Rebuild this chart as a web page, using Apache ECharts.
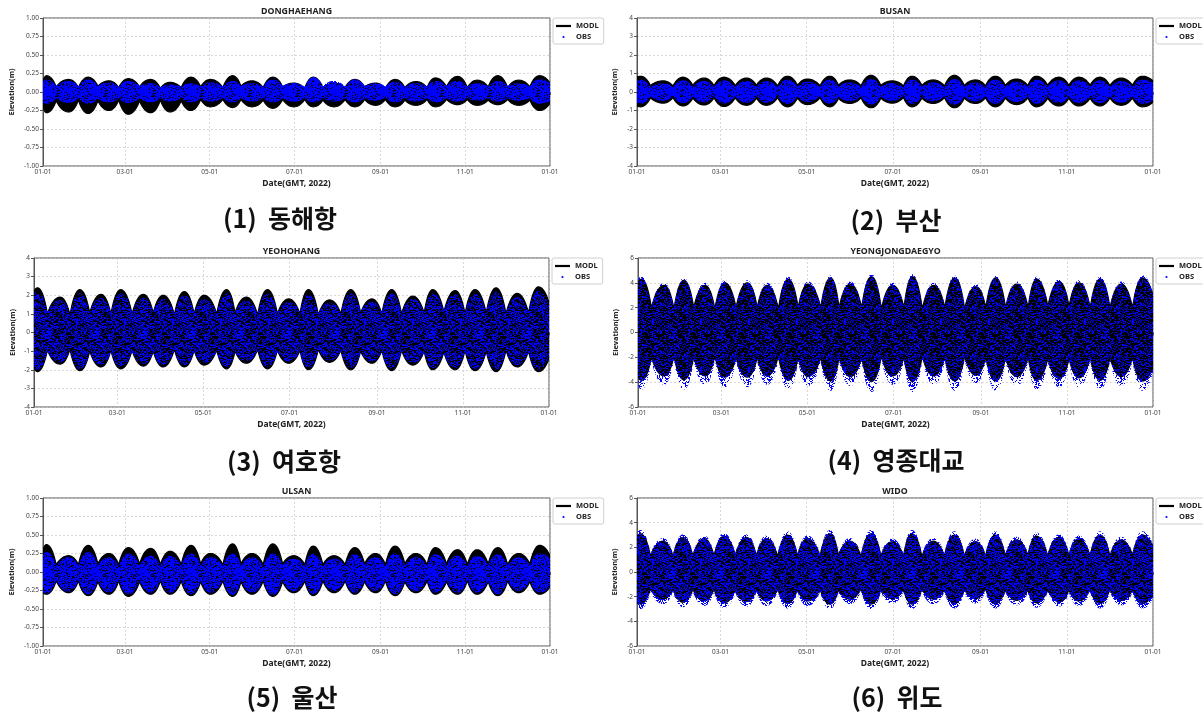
<!DOCTYPE html>
<html>
<head>
<meta charset="UTF-8">
<title>Elevation 2022</title>
<script src="https://cdn.jsdelivr.net/npm/echarts@6/dist/echarts.min.js"></script>
<style>
  html, body { margin: 0; padding: 0; background: #fff; }
  #main { width: 1203px; height: 714px; }
</style>
</head>
<body>
<div id="main"></div>
<script>
// sample days (day of 2022): edge, then spring / neap pairs, then edge
var days = [0, 2.5,9.5, 18.5,25.5, 32.5,39.5, 47.5,54.5, 61.5,69.5, 77.5,84.5, 91.5,99.5, 106.5,113.5, 120.5,129.5, 136.5,142.5, 150.5,158.5, 165.5,172.5, 180.5,188.5, 194.5,201.5, 209.5,217.5, 224.5,231.5, 239.5,246.5, 253.5,260.5, 268.5,276.5, 282.5,290.5, 298.5,305.5, 312.5,320.5, 327.5,334.5, 342.5,350.5, 357.5, 365];

var tickDays = [0, 59, 120, 181, 243, 304, 365];
var tickLabels = ['01-01', '03-01', '05-01', '07-01', '09-01', '11-01', '01-01'];

var stations = ['DONGHAEHANG', 'BUSAN', 'YEOHOHANG', 'YEONGJONGDAEGYO', 'ULSAN', 'WIDO'];
var captions = ['(1)  동해항', '(2)  부산', '(3)  여호항', '(4)  영종대교', '(5)  울산', '(6)  위도'];

// envelope of the tide band (m): upper / lower edge, model and observation
var donghaeModlHigh = [0.15, 0.22,0.07, 0.17,0.06, 0.2,0.08, 0.15,0.06, 0.18,0.07, 0.17,0.05, 0.13,0.06, 0.2,0.07, 0.17,0.06, 0.22,0.08, 0.15,0.06, 0.2,0.07, 0.12,0.05, 0.2,0.06, 0.12,0.06, 0.17,0.07, 0.12,0.05, 0.17,0.06, 0.14,0.06, 0.19,0.07, 0.21,0.06, 0.16,0.07, 0.22,0.06, 0.16,0.07, 0.22, 0.12];
var donghaeModlLow = [-0.2, -0.28,-0.12, -0.27,-0.11, -0.29,-0.12, -0.25,-0.11, -0.3,-0.12, -0.28,-0.11, -0.27,-0.12, -0.25,-0.1, -0.2,-0.1, -0.21,-0.1, -0.2,-0.11, -0.22,-0.1, -0.2,-0.1, -0.2,-0.11, -0.2,-0.1, -0.2,-0.1, -0.18,-0.1, -0.2,-0.11, -0.18,-0.1, -0.2,-0.1, -0.17,-0.1, -0.18,-0.11, -0.17,-0.1, -0.18,-0.11, -0.25, -0.15];
var donghaeObsHigh = [0.14, 0.17,0.08, 0.15,0.07, 0.17,0.08, 0.13,0.07, 0.15,0.08, 0.12,0.06, 0.1,0.07, 0.12,0.07, 0.13,0.07, 0.15,0.08, 0.12,0.07, 0.17,0.08, 0.12,0.07, 0.2,0.08, 0.15,0.07, 0.17,0.08, 0.12,0.07, 0.14,0.07, 0.12,0.07, 0.15,0.08, 0.15,0.07, 0.12,0.07, 0.15,0.08, 0.12,0.07, 0.17, 0.12];
var donghaeObsLow = [-0.14, -0.16,-0.08, -0.15,-0.08, -0.16,-0.09, -0.14,-0.08, -0.15,-0.08, -0.14,-0.08, -0.13,-0.08, -0.14,-0.08, -0.13,-0.08, -0.14,-0.08, -0.13,-0.08, -0.14,-0.08, -0.13,-0.08, -0.14,-0.08, -0.13,-0.08, -0.14,-0.08, -0.12,-0.07, -0.14,-0.08, -0.13,-0.08, -0.14,-0.08, -0.13,-0.08, -0.12,-0.08, -0.13,-0.08, -0.12,-0.08, -0.16, -0.12];

var busanModlHigh = [0.8, 0.85,0.35, 0.6,0.33, 0.8,0.36, 0.75,0.34, 0.8,0.35, 0.75,0.36, 0.75,0.33, 0.85,0.36, 0.7,0.34, 0.85,0.37, 0.65,0.34, 0.9,0.36, 0.6,0.33, 0.85,0.36, 0.65,0.33, 0.9,0.36, 0.65,0.34, 0.85,0.36, 0.7,0.35, 0.85,0.37, 0.8,0.36, 0.8,0.37, 0.8,0.35, 0.75,0.36, 0.85, 0.6];
var busanModlLow = [-0.75, -0.8,-0.32, -0.6,-0.3, -0.75,-0.33, -0.7,-0.31, -0.78,-0.32, -0.72,-0.33, -0.72,-0.3, -0.8,-0.33, -0.68,-0.31, -0.8,-0.34, -0.62,-0.31, -0.85,-0.33, -0.6,-0.3, -0.8,-0.33, -0.62,-0.3, -0.85,-0.33, -0.62,-0.31, -0.8,-0.33, -0.68,-0.32, -0.8,-0.34, -0.75,-0.33, -0.75,-0.34, -0.75,-0.32, -0.72,-0.33, -0.8, -0.55];
var busanObsHigh = [0.62, 0.66,0.26, 0.48,0.24, 0.63,0.27, 0.6,0.25, 0.63,0.26, 0.6,0.27, 0.6,0.24, 0.67,0.27, 0.56,0.25, 0.67,0.28, 0.52,0.25, 0.7,0.27, 0.48,0.24, 0.67,0.27, 0.52,0.24, 0.7,0.27, 0.52,0.25, 0.67,0.27, 0.56,0.26, 0.67,0.28, 0.63,0.27, 0.63,0.28, 0.63,0.26, 0.6,0.27, 0.67, 0.48];
var busanObsLow = [-0.6, -0.64,-0.22, -0.48,-0.2, -0.6,-0.23, -0.56,-0.21, -0.62,-0.22, -0.58,-0.23, -0.58,-0.2, -0.64,-0.23, -0.54,-0.21, -0.64,-0.24, -0.5,-0.21, -0.68,-0.23, -0.48,-0.2, -0.64,-0.23, -0.5,-0.2, -0.68,-0.23, -0.5,-0.21, -0.64,-0.23, -0.54,-0.22, -0.64,-0.24, -0.6,-0.23, -0.6,-0.24, -0.6,-0.22, -0.58,-0.23, -0.64, -0.44];

var yeohoModlHigh = [2.2, 2.4,1.0, 1.9,0.95, 2.3,1.05, 2.05,1.0, 2.3,1.0, 2.05,1.05, 2.0,0.95, 2.2,1.0, 2.0,1.0, 2.3,1.05, 1.9,0.95, 2.3,1.0, 1.8,1.0, 2.3,0.95, 1.75,1.0, 2.3,1.05, 1.8,1.0, 2.3,1.0, 1.95,1.05, 2.3,1.1, 2.25,1.0, 2.3,1.05, 2.4,1.0, 2.1,1.05, 2.45, 1.6];
var yeohoModlLow = [-1.9, -2.1,-0.95, -1.7,-0.9, -2.05,-1.0, -1.85,-0.95, -1.95,-0.95, -1.8,-1.0, -1.85,-0.9, -1.85,-0.95, -1.75,-0.95, -1.95,-1.0, -1.65,-0.9, -1.95,-0.95, -1.65,-0.95, -2.0,-0.9, -1.6,-0.95, -2.0,-1.0, -1.65,-0.95, -2.05,-0.95, -1.75,-1.0, -2.0,-1.05, -2.0,-0.95, -2.05,-1.0, -2.1,-0.95, -1.85,-1.0, -2.1, -1.4];
var yeohoObsHigh = [2.0, 2.2,1.05, 1.75,1.0, 2.1,1.1, 1.85,1.05, 2.1,1.05, 1.85,1.1, 1.8,1.0, 2.0,1.05, 1.8,1.05, 2.1,1.1, 1.7,1.0, 2.1,1.05, 1.65,1.05, 2.1,1.0, 1.6,1.05, 2.1,1.1, 1.65,1.05, 2.1,1.05, 1.8,1.1, 2.1,1.15, 2.05,1.05, 2.1,1.1, 2.2,1.05, 1.9,1.1, 2.25, 1.45];
var yeohoObsLow = [-1.8, -2.0,-1.0, -1.6,-0.95, -1.95,-1.05, -1.75,-1.0, -1.85,-1.0, -1.7,-1.05, -1.75,-0.95, -1.75,-1.0, -1.65,-1.0, -1.85,-1.05, -1.55,-0.95, -1.85,-1.0, -1.55,-1.0, -1.9,-0.95, -1.5,-1.0, -1.9,-1.05, -1.55,-1.0, -1.95,-1.0, -1.65,-1.05, -1.9,-1.1, -1.9,-1.0, -1.95,-1.05, -2.0,-1.0, -1.75,-1.05, -2.0, -1.3];

var yeongjongModlHigh = [4.0, 4.3,2.0, 3.8,1.9, 4.2,2.0, 3.8,1.9, 4.0,2.0, 4.0,2.0, 3.8,1.9, 4.3,2.0, 3.9,2.0, 4.4,2.0, 3.9,2.0, 4.5,1.9, 3.8,2.0, 4.5,1.9, 3.8,2.0, 4.4,1.9, 3.7,2.0, 4.4,2.0, 3.9,2.0, 4.3,2.1, 4.1,2.1, 4.0,2.0, 4.3,2.0, 3.9,2.0, 4.4, 3.0];
var yeongjongModlLow = [-3.6, -3.85,-2.0, -3.5,-1.9, -3.8,-2.0, -3.5,-1.9, -3.6,-2.0, -3.6,-2.0, -3.5,-1.9, -3.85,-2.0, -3.55,-2.0, -3.9,-2.0, -3.55,-2.0, -3.95,-1.9, -3.5,-2.0, -3.95,-1.9, -3.5,-2.0, -3.9,-1.9, -3.45,-2.0, -3.9,-2.0, -3.55,-2.0, -3.85,-2.1, -3.7,-2.1, -3.65,-2.0, -3.85,-2.0, -3.55,-2.0, -3.9, -2.8];
var yeongjongObsHigh = [4.2, 4.55,2.1, 4.0,2.0, 4.4,2.1, 4.0,2.0, 4.2,2.1, 4.2,2.1, 4.0,2.0, 4.5,2.1, 4.1,2.1, 4.6,2.1, 4.1,2.1, 4.7,2.0, 4.0,2.1, 4.7,2.0, 4.0,2.1, 4.6,2.0, 3.9,2.1, 4.6,2.1, 4.1,2.1, 4.5,2.2, 4.3,2.2, 4.2,2.1, 4.5,2.1, 4.1,2.1, 4.6, 3.2];
var yeongjongObsLow = [-4.2, -4.6,-2.3, -4.2,-2.2, -4.6,-2.3, -4.2,-2.2, -4.4,-2.3, -4.4,-2.3, -4.2,-2.2, -4.6,-2.3, -4.3,-2.3, -4.7,-2.3, -4.3,-2.3, -4.8,-2.2, -4.2,-2.3, -4.8,-2.2, -4.2,-2.3, -4.7,-2.2, -4.1,-2.3, -4.7,-2.3, -4.3,-2.3, -4.6,-2.4, -4.4,-2.4, -4.4,-2.3, -4.6,-2.3, -4.3,-2.3, -4.7, -3.2];

var ulsanModlHigh = [0.3, 0.37,0.1, 0.22,0.1, 0.36,0.11, 0.25,0.1, 0.33,0.11, 0.32,0.1, 0.28,0.1, 0.36,0.11, 0.25,0.1, 0.38,0.11, 0.25,0.1, 0.38,0.11, 0.22,0.1, 0.35,0.1, 0.22,0.1, 0.33,0.11, 0.25,0.1, 0.35,0.11, 0.25,0.1, 0.33,0.11, 0.3,0.1, 0.3,0.11, 0.33,0.1, 0.25,0.11, 0.36, 0.22];
var ulsanModlLow = [-0.28, -0.3,-0.12, -0.28,-0.12, -0.32,-0.13, -0.3,-0.12, -0.33,-0.13, -0.3,-0.12, -0.3,-0.12, -0.32,-0.13, -0.3,-0.12, -0.33,-0.13, -0.3,-0.12, -0.33,-0.13, -0.28,-0.12, -0.32,-0.12, -0.28,-0.12, -0.3,-0.13, -0.28,-0.12, -0.32,-0.13, -0.28,-0.12, -0.3,-0.13, -0.3,-0.12, -0.3,-0.13, -0.32,-0.12, -0.28,-0.13, -0.3, -0.2];
var ulsanObsHigh = [0.23, 0.27,0.08, 0.2,0.08, 0.27,0.09, 0.2,0.08, 0.25,0.09, 0.22,0.08, 0.22,0.08, 0.25,0.09, 0.2,0.08, 0.25,0.09, 0.2,0.08, 0.25,0.09, 0.18,0.08, 0.25,0.08, 0.18,0.08, 0.24,0.09, 0.2,0.08, 0.25,0.09, 0.2,0.08, 0.24,0.09, 0.22,0.08, 0.22,0.09, 0.24,0.08, 0.2,0.09, 0.25, 0.18];
var ulsanObsLow = [-0.27, -0.29,-0.1, -0.27,-0.1, -0.3,-0.11, -0.28,-0.1, -0.3,-0.11, -0.28,-0.1, -0.28,-0.1, -0.3,-0.11, -0.28,-0.1, -0.31,-0.11, -0.28,-0.1, -0.31,-0.11, -0.26,-0.1, -0.3,-0.1, -0.26,-0.1, -0.28,-0.11, -0.26,-0.1, -0.3,-0.11, -0.26,-0.1, -0.28,-0.11, -0.28,-0.1, -0.28,-0.11, -0.3,-0.1, -0.26,-0.11, -0.28, -0.2];

var widoModlHigh = [2.9, 3.1,1.3, 2.5,1.25, 2.8,1.3, 2.7,1.3, 2.9,1.35, 2.8,1.3, 2.7,1.25, 3.0,1.3, 2.7,1.3, 3.1,1.35, 2.5,1.25, 3.1,1.3, 2.45,1.3, 3.1,1.25, 2.5,1.3, 3.0,1.3, 2.45,1.25, 3.0,1.3, 2.6,1.35, 2.9,1.3, 2.8,1.35, 2.7,1.3, 3.0,1.3, 2.6,1.35, 3.0, 2.0];
var widoModlLow = [-2.5, -2.6,-1.4, -2.2,-1.35, -2.45,-1.4, -2.35,-1.4, -2.5,-1.45, -2.4,-1.4, -2.35,-1.35, -2.55,-1.4, -2.35,-1.4, -2.6,-1.45, -2.2,-1.35, -2.6,-1.4, -2.15,-1.4, -2.6,-1.35, -2.2,-1.4, -2.55,-1.4, -2.15,-1.35, -2.55,-1.4, -2.3,-1.45, -2.5,-1.4, -2.4,-1.45, -2.35,-1.4, -2.55,-1.4, -2.3,-1.45, -2.55, -1.8];
var widoObsHigh = [3.15, 3.4,1.45, 2.75,1.4, 3.05,1.45, 2.95,1.45, 3.15,1.5, 3.05,1.45, 2.95,1.4, 3.3,1.45, 2.95,1.45, 3.4,1.5, 2.75,1.4, 3.4,1.45, 2.7,1.45, 3.4,1.4, 2.75,1.45, 3.3,1.45, 2.7,1.4, 3.3,1.45, 2.85,1.5, 3.2,1.45, 3.05,1.5, 2.95,1.45, 3.3,1.45, 2.85,1.5, 3.3, 2.2];
var widoObsLow = [-2.9, -3.0,-1.6, -2.6,-1.55, -2.85,-1.6, -2.75,-1.6, -2.9,-1.65, -2.8,-1.6, -2.75,-1.55, -2.95,-1.6, -2.75,-1.6, -3.0,-1.65, -2.6,-1.55, -3.0,-1.6, -2.55,-1.6, -3.0,-1.55, -2.6,-1.6, -2.95,-1.6, -2.55,-1.55, -2.95,-1.6, -2.7,-1.65, -2.9,-1.6, -2.8,-1.65, -2.75,-1.6, -2.95,-1.6, -2.7,-1.65, -2.95, -2.1];

var modlHigh = [donghaeModlHigh, busanModlHigh, yeohoModlHigh, yeongjongModlHigh, ulsanModlHigh, widoModlHigh];
var modlLow = [donghaeModlLow, busanModlLow, yeohoModlLow, yeongjongModlLow, ulsanModlLow, widoModlLow];
var obsHigh = [donghaeObsHigh, busanObsHigh, yeohoObsHigh, yeongjongObsHigh, ulsanObsHigh, widoObsHigh];
var obsLow = [donghaeObsLow, busanObsLow, yeohoObsLow, yeongjongObsLow, ulsanObsLow, widoObsLow];

// y axis ranges
var yMin = [-1, -4, -4, -6, -1, -6];
var yMax = [1, 4, 4, 6, 1, 6];
var yStep = [0.25, 1, 1, 2, 0.25, 2];

// layout (px)
var boxes = [
  [43, 18, 507, 148], [637, 18, 516, 148],
  [34, 258, 515, 149], [638, 258, 515, 149],
  [43, 498, 507, 148], [637, 498, 516, 148]
];
var yNameGap = [27, 18, 17, 18, 27, 18];
var capPos = [[280, 218], [896, 220], [284, 461], [896, 460], [292, 697], [897, 697]];

// share of blue pixels in the obs fill texture
var obsDensity = [0.86, 0.88, 0.5, 0.36, 0.8, 0.5];

var chart = echarts.init(document.getElementById('main'));

// pixel noise tile (hash based) so obs reads as dense dots over the model band
function speckle(density) {
  var n = 48;
  var c = document.createElement('canvas');
  c.width = n; c.height = n;
  var ctx = c.getContext('2d');
  ctx.fillStyle = '#0000ff';
  for (var y = 0; y < n; y++) {
    for (var x = 0; x < n; x++) {
      var h = Math.imul(x, 374761393) + Math.imul(y, 668265263);
      h = Math.imul(h ^ (h >>> 13), 1274126177);
      h = h ^ (h >>> 16);
      if (((h >>> 0) % 1000) / 1000 < density) ctx.fillRect(x, y, 1, 1);
    }
  }
  return { image: c, repeat: 'repeat' };
}

// one edge of the band: bulge shape between spring and neap samples
function edge(api, vals, upper) {
  var p = days.map(function (d, k) { return api.coord([d, vals[k]]); });
  var out = [p[0]];
  for (var k = 0; k < p.length - 1; k++) {
    var a = p[k], b = p[k + 1];
    var aPeak = upper ? a[1] <= b[1] : a[1] >= b[1];
    var pk = aPeak ? a : b, ot = aPeak ? b : a;
    var c = [pk[0] + 0.55 * (ot[0] - pk[0]), pk[1]];
    for (var s = 1; s <= 10; s++) {
      var t = s / 10, u = 1 - t;
      out.push([u * u * a[0] + 2 * u * t * c[0] + t * t * b[0], u * u * a[1] + 2 * u * t * c[1] + t * t * b[1]]);
    }
  }
  return out;
}

function bandSeries(i, name, high, low, color, fill) {
  return {
    name: name,
    type: 'custom',
    xAxisIndex: i,
    yAxisIndex: i,
    clip: true,
    itemStyle: { color: color },
    encode: { x: 0, y: [1, 2] },
    data: days.map(function (d, k) { return [d, high[k], low[k]]; }),
    renderItem: function (params, api) {
      if (params.dataIndex !== 0) return null;
      var pts = edge(api, high, true).concat(edge(api, low, false).reverse());
      return {
        type: 'polygon',
        shape: { points: pts },
        style: { fill: fill, stroke: name === 'MODL' ? color : null, lineWidth: 1.2 }
      };
    }
  };
}

var grids = [], xAxes = [], yAxes = [], titles = [], legends = [], series = [];

for (var i = 0; i < 6; i++) {
  var b = boxes[i];
  grids.push({ left: b[0], top: b[1], width: b[2], height: b[3], show: true, borderColor: '#555', borderWidth: 1, backgroundColor: 'transparent' });

  xAxes.push({
    gridIndex: i, type: 'value', min: 0, max: 365,
    name: 'Date(GMT, 2022)', nameLocation: 'middle', nameGap: 13,
    nameTextStyle: { fontSize: 8.5, fontWeight: 'bold', color: '#222', fontFamily: 'Noto Sans' },
    axisLine: { show: true, lineStyle: { color: '#555', width: 1 } },
    axisTick: { show: true, customValues: tickDays, length: 3, lineStyle: { color: '#555' } },
    axisLabel: {
      customValues: tickDays, fontSize: 6.5, color: '#444', margin: 3, fontFamily: 'Noto Sans',
      formatter: function (v) { return tickLabels[tickDays.indexOf(v)]; }
    },
    splitLine: { show: true, lineStyle: { color: '#c8c8c8', type: [2, 2], width: 0.7 } }
  });

  yAxes.push({
    gridIndex: i, type: 'value', min: yMin[i], max: yMax[i], interval: yStep[i],
    name: 'Elevation(m)', nameLocation: 'middle', nameGap: yNameGap[i],
    nameTextStyle: { fontSize: 7.5, fontWeight: 'bold', color: '#222', fontFamily: 'Noto Sans' },
    axisLine: { show: true, lineStyle: { color: '#555', width: 1 } },
    axisTick: { show: true, length: 3, lineStyle: { color: '#555' } },
    axisLabel: {
      fontSize: 6.5, color: '#444', margin: 4, fontFamily: 'Noto Sans',
      formatter: (yStep[i] < 1) ? function (v) { return v.toFixed(2); } : function (v) { return String(v); }
    },
    splitLine: { show: true, lineStyle: { color: '#c8c8c8', type: [2, 2], width: 0.7 } }
  });

  titles.push({
    text: stations[i], left: b[0] + b[2] / 2, top: b[1] - 7, padding: 0,
    textAlign: 'center', textVerticalAlign: 'middle',
    textStyle: { fontSize: 8.8, fontWeight: 'bold', color: '#222', fontFamily: 'Noto Sans' }
  });
  titles.push({
    text: captions[i], left: capPos[i][0], top: capPos[i][1], padding: 0,
    textAlign: 'center', textVerticalAlign: 'middle',
    textStyle: { fontSize: 25, fontWeight: 'bold', color: '#111', fontFamily: 'Noto Sans CJK KR' }
  });

  legends.push({
    left: b[0] + b[2] + 3, top: b[1], orient: 'vertical',
    itemWidth: 15, itemHeight: 2.2, itemGap: 3,
    padding: [4, 5, 3, 3],
    borderColor: '#d0d0d0', borderWidth: 1, borderRadius: 2,
    textStyle: { fontSize: 7.5, fontWeight: 'bold', color: '#222', fontFamily: 'Noto Sans' },
    data: [{ name: 'MODL', icon: 'rect' }, { name: 'OBS', icon: 'circle' }],
    selectedMode: false
  });

  series.push(bandSeries(i, 'MODL', modlHigh[i], modlLow[i], '#000000', '#000000'));
  series.push(bandSeries(i, 'OBS', obsHigh[i], obsLow[i], '#0000ff', speckle(obsDensity[i])));
}

chart.setOption({
  animation: false,
  backgroundColor: '#fff',
  title: titles,
  legend: legends,
  grid: grids,
  xAxis: xAxes,
  yAxis: yAxes,
  series: series
});
</script>
</body>
</html>
